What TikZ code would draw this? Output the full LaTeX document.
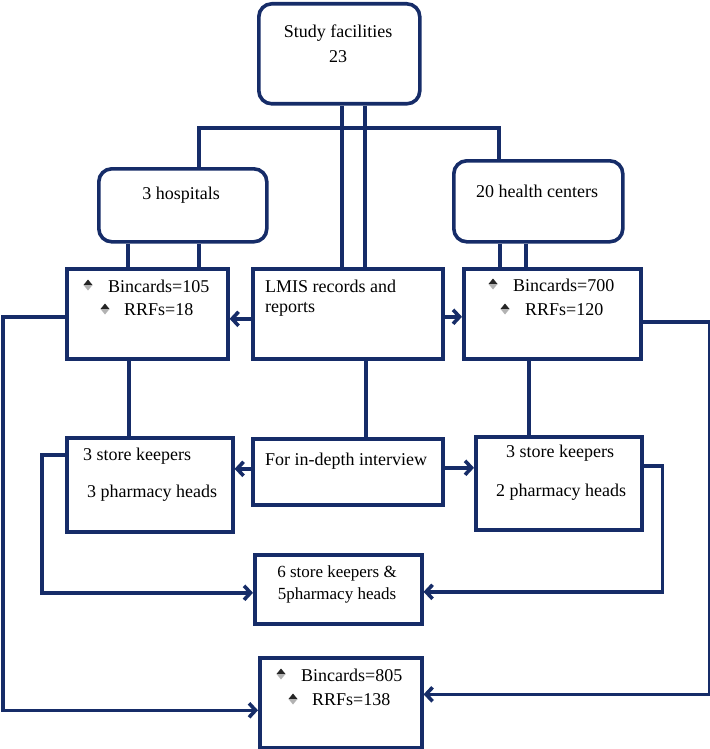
\documentclass[tikz,border=0pt]{standalone}
\usepackage{fontspec}
\IfFontExistsTF{LiberationSerif-Regular.ttf}{\setmainfont{LiberationSerif-Regular.ttf}}{\setmainfont{Liberation Serif}}
\usetikzlibrary{arrows.meta}
\definecolor{navy}{RGB}{22,44,104}
\begin{document}
\begin{tikzpicture}[x=1pt,y=-1pt,
  box/.style={draw=navy,line width=3.6pt,anchor=north west,inner sep=0pt,fill=white},
  rbox/.style={box,rounded corners=13pt},
  txt/.style={inner sep=0pt,font=\fontsize{18}{22}\selectfont,text=black},
  ltxt/.style={txt,anchor=west},
  con/.style={draw=navy,line width=3.6pt},
  myarrow/.style={con,-{Straight Barb[length=6.5pt,width=14pt]}},
  bul/.pic={
    \fill[black!85] (0,-5.5) -- (4.5,0) -- (-4.5,0) -- cycle;
    \fill[black!30] (0,5.5) -- (4.5,0) -- (-4.5,0) -- cycle;
  }]
\useasboundingbox (0,0) rectangle (709,749);

% boxes
\node[rbox,minimum width=161pt,minimum height=100pt] (top) at (257,2) {};
\node[rbox,minimum width=168pt,minimum height=73pt] (hosp) at (97,167) {};
\node[rbox,minimum width=169pt,minimum height=81pt] (hc) at (452,159) {};
\node[box,minimum width=161pt,minimum height=90pt] (b105) at (65,267) {};
\node[box,minimum width=190pt,minimum height=90pt] (lmis) at (251,267) {};
\node[box,minimum width=177pt,minimum height=90pt] (b700) at (462,267) {};
\node[box,minimum width=166pt,minimum height=94pt] (skl) at (65,436) {};
\node[box,minimum width=190pt,minimum height=66pt] (indepth) at (251,437) {};
\node[box,minimum width=166pt,minimum height=93pt] (skr) at (474,435) {};
\node[box,minimum width=167pt,minimum height=69pt] (mid) at (253,553) {};
\node[box,minimum width=162pt,minimum height=90pt] (bot) at (258,656) {};

% connectors
\draw[con] ([xshift=2.5pt]top.south) -- ([xshift=2.5pt]top.south |- lmis.north);
\draw[con] ([xshift=25.5pt]top.south) -- ([xshift=25.5pt]top.south |- lmis.north);
\draw[con] ([xshift=16pt]hosp.north) |- ([xshift=-39.5pt,yshift=31pt]hc.north) -- ([xshift=-39.5pt]hc.north);
\draw[con] ([xshift=-55pt]hosp.south) -- ([xshift=-55pt]hosp.south |- b105.north);
\draw[con] ([xshift=16pt]hosp.south) -- ([xshift=16pt]hosp.south |- b105.north);
\draw[con] ([xshift=-38.5pt]hc.south) -- ([xshift=-38.5pt]hc.south |- b700.north);
\draw[con] ([xshift=-12.5pt]hc.south) -- ([xshift=-12.5pt]hc.south |- b700.north);
\draw[myarrow] ([yshift=-5pt]lmis.west) -- ([yshift=-5pt]lmis.west -| b105.east);
\draw[myarrow] ([yshift=-3pt]lmis.east) -- ([yshift=-3pt]lmis.east -| b700.west);
\draw[con] ([xshift=-18.5pt]b105.south) -- ([xshift=-18.5pt]b105.south |- skl.north);
\draw[con] ([xshift=18pt]lmis.south) -- ([xshift=18pt]lmis.south |- indepth.north);
\draw[con] ([xshift=-23.5pt]b700.south) -- ([xshift=-23.5pt]b700.south |- skr.north);
\draw[myarrow] ([yshift=3pt]indepth.west) -- ([yshift=3pt]indepth.west -| skl.east);
\draw[myarrow] ([yshift=4pt]indepth.east) -- ([yshift=4pt]indepth.east -| skr.west);
\draw[myarrow] ([yshift=-3pt]b105.west) -- ++(-62,0) |- ([yshift=-7.5pt]bot.west);
\draw[myarrow] ([yshift=-8pt]b700.east) -- ++(67,0) |- ([yshift=8.5pt]bot.east);
\draw[myarrow] ([yshift=30pt]skl.west) -- ++(-23,0) |- ([yshift=-3.5pt]mid.west);
\draw[myarrow] ([yshift=17.5pt]skr.east) -- ++(19,0) |- ([yshift=-2.5pt]mid.east);

% texts
\node[txt] (t1) at (338,33) {Study facilities};
\node[txt] (t2) at (338,57) {23};
\node[txt] (t3) at (181,195) {3 hospitals};
\node[txt] (t4) at (537,191) {20 health centers};
\node[ltxt] (t5) at (108,286) {Bincards=105};
\node[ltxt] (t6) at (124,310) {RRFs=18};
\pic at (88,285) {bul};
\pic at (105,309) {bul};
\node[ltxt] (t7) at (265,286) {LMIS records and};
\node[ltxt] (t8) at (265,309) {reports};
\node[ltxt] (t9) at (513,285) {Bincards=700};
\node[ltxt] (t10) at (525,310) {RRFs=120};
\pic at (493,284) {bul};
\pic at (505,309) {bul};
\node[ltxt] (t11) at (83,456) {3 store keepers};
\node[ltxt] (t12) at (87,493) {3 pharmacy heads};
\node[ltxt] (t13) at (265,461) {For in-depth interview};
\node[ltxt] (t14) at (506,453) {3 store keepers};
\node[ltxt] (t15) at (496,492) {2 pharmacy heads};
\node[txt,font=\fontsize{17}{20}\selectfont] (t16) at (337,573) {6 store keepers \&};
\node[txt,font=\fontsize{17}{20}\selectfont] (t17) at (337,595) {5pharmacy heads};
\node[ltxt] (t18) at (301,675) {Bincards=805};
\node[ltxt] (t19) at (312,700) {RRFs=138};
\pic at (281,674) {bul};
\pic at (293,699) {bul};
\end{tikzpicture}
\end{document}
